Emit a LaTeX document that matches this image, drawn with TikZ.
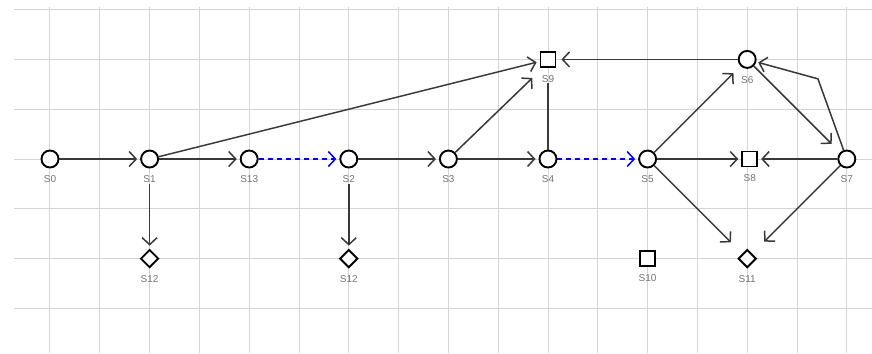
\documentclass[tikz,border=0pt]{standalone}
\usepackage{fontspec}
\setmainfont{Liberation Sans}
\usetikzlibrary{arrows.meta,shapes.geometric}
\begin{document}
\begin{tikzpicture}[
    x=49.8pt, y=49.8pt,
    label distance=6pt,
    gridline/.style={draw=black!17,line width=1pt},
    state/.style={circle,draw,line width=1.9pt,fill=white,minimum size=17pt,inner sep=0pt},
    final/.style={rectangle,draw,line width=1.9pt,fill=white,minimum size=15pt,inner sep=0pt},
    sink/.style={diamond,draw,line width=1.9pt,fill=white,minimum size=18pt,inner sep=0pt},
    every label/.style={font=\fontsize{10}{11}\selectfont,text=black!55,inner sep=1pt},
    link/.style={draw=black!78,line width=1.5pt},
    move/.style={link,shorten >=3pt,-{Straight Barb[length=7pt,width=15pt]}},
    hop/.style={move,draw=blue,dash pattern=on 5pt off 4pt}
]
\useasboundingbox (-1.004,0.193) rectangle (16.506,-6.896);
\foreach \j in {0,...,6}
    \draw[gridline] (-0.72,-\j) -- (16.51,-\j);
\foreach \i in {0,...,16}
    \draw[gridline] (\i,0.06) -- (\i,-6.9);

\node[state,label={[name=l0]below:S0}] (S0) at (0,-3) {};
\node[state,label={[name=l1]below:S1}] (S1) at (2,-3) {};
\node[state,label={[name=l13]below:S13}] (S13) at (4,-3) {};
\node[state,label={[name=l2]below:S2}] (S2) at (6,-3) {};
\node[state,label={[name=l3]below:S3}] (S3) at (8,-3) {};
\node[state,label={[name=l4]below:S4}] (S4) at (10,-3) {};
\node[state,label={[name=l5]below:S5}] (S5) at (12,-3) {};
\node[state,label={[name=l6]below:S6}] (S6) at (14,-1) {};
\node[state,label={[name=l7]below:S7}] (S7) at (16,-3) {};
\node[final,label={[name=l8]below:S8}] (S8) at (14.05,-3) {};
\node[final,label={[name=l9]below:S9}] (S9) at (10,-1) {};
\node[final,label={[name=l10]below:S10}] (S10) at (12,-5) {};
\node[sink,label={[name=l11]below:S11}] (S11) at (14,-5) {};
\node[sink,label={[name=l12a]below:S12}] (S12a) at (2,-5) {};
\node[sink,label={[name=l12b]below:S12}] (S12b) at (6,-5) {};
\coordinate (bend) at (15.42,-1.39);

\draw[move] (S0) -- (S1);
\draw[move] (S1) -- (S13);
\draw[hop] (S13) -- (S2);
\draw[move] (S2) -- (S3);
\draw[move] (S3) -- (S4);
\draw[hop] (S4) -- (S5);
\draw[move] (l1) -- (S12a);
\draw[move] (l2) -- (S12b);
\draw[move] (S1) -- (S9);
\draw[move] (S3) -- ([xshift=-5pt,yshift=-8pt]S9.south west);
\draw[link] (S4) -- (l9);
\draw[move,shorten >=5pt] (S6) -- (S9);
\draw[move,shorten >=10pt] (S5) -- (S6);
\draw[move] (S5) -- (S8);
\draw[move] (S7) -- (S8);
\draw[move,shorten >=16pt] (S5) -- (S11);
\draw[move,shorten >=17pt] (S7) -- (S11);
\draw[move,shorten >=12pt] (S6) -- (S7);
\draw[move,shorten >=2pt] (S7) -- (bend) -- (S6);
\end{tikzpicture}
\end{document}
